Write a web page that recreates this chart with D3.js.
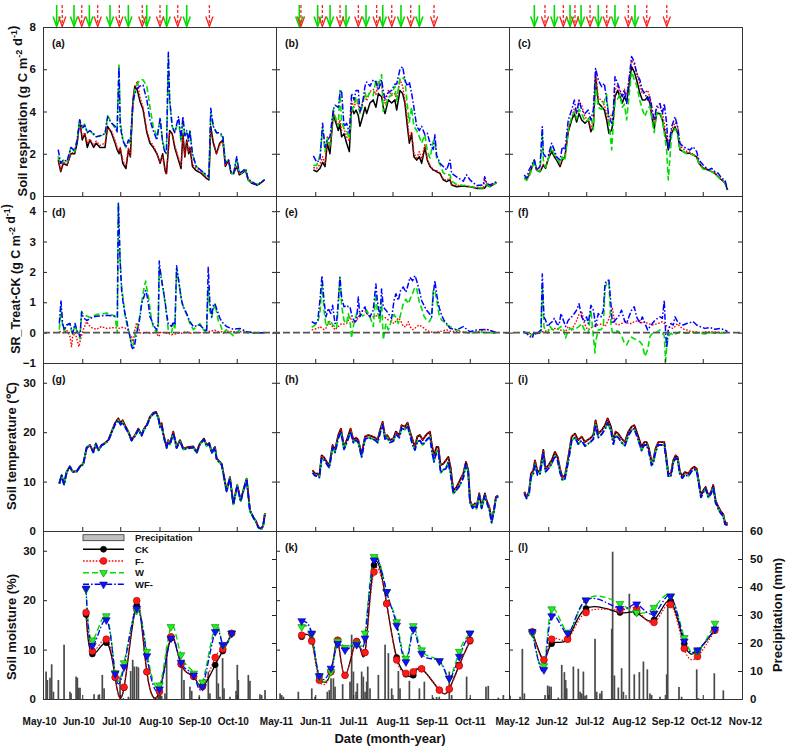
<!DOCTYPE html>
<html><head><meta charset="utf-8"><title>Soil respiration chart</title>
<script src="https://cdn.jsdelivr.net/npm/d3@7/dist/d3.min.js"></script>
<style>
html,body{margin:0;padding:0;background:#fff;}
svg{display:block;}
</style></head><body>
<svg id="chart" width="787" height="750"></svg>
<script>
// ---------------- DATA (days since 1 May of each year) ----------------
const years = [2010, 2011, 2012];
const seriesNames = ["CK", "F-", "W", "WF-"];
const panelTags = [["(a)","(b)","(c)"],["(d)","(e)","(f)"],["(g)","(h)","(i)"],["","(k)","(l)"]];
const srTicks = [0,2,4,6,8];
const dTicks = [-1,0,1,2,3,4];
const tTicks = [0,10,20,30];
const smTicks = [0,10,20,30];
const pTicks = [0,10,20,30,40,50,60];

// 2010 soil respiration
const srDays10 = [12,14,16,19,22,25,27,29,31,33,35,37,40,42,45,49,51,54,57,58.5,60,61,63,65.5,67.5,69,71,72.5,74.5,76.5,79,82,84.5,87,90,92.5,94.5,96.5,97.5,99,100,102,104,107,109,110.5,112,113.5,115,116,118,121,125,129,131,132.5,134.5,137,139.5,142,144,146.5,148.5,150.5,153,155,157,160,162,165,169,171,175];
const srCK10 = [1.7,1.15,1.55,1.45,2.0,2.0,2.5,3.6,2.65,2.95,2.3,2.65,2.3,2.5,2.3,2.3,3.3,3.0,2.5,2.2,2.0,2.25,1.55,1.3,2.2,1.85,4.5,5.2,5.0,4.5,4.1,3.0,2.5,2.3,2.0,1.55,2.0,1.2,1.07,2.2,3.1,2.95,2.3,1.7,1.3,2.95,1.85,2.65,2.0,2.3,1.4,1.2,1.07,0.84,0.76,3.3,2.5,2.0,2.5,2.65,1.4,1.7,1.07,1.07,1.4,1.0,1.07,1.2,0.76,0.6,0.52,0.57,0.76];
const srF10 = [1.8,1.2,1.6,1.5,2.0,2.1,2.6,3.5,2.8,3.0,2.5,2.7,2.4,2.6,2.4,2.5,3.2,3.1,2.6,2.3,2.1,2.3,1.7,1.4,2.3,1.9,4.6,5.1,5.45,4.7,4.2,3.1,2.6,2.4,2.0,1.6,1.9,1.1,1.0,2.2,3.0,3.0,2.4,1.8,1.4,2.8,1.9,2.6,2.1,2.3,1.5,1.3,1.1,0.9,0.8,3.1,2.6,2.0,2.4,2.6,1.45,1.7,1.1,1.1,1.45,1.05,1.1,1.25,0.8,0.6,0.55,0.6,0.75];
const srW10 = [1.9,1.5,1.7,1.6,2.3,2.1,2.7,3.5,3.3,3.4,3.0,3.1,2.9,2.8,2.85,2.9,3.8,3.5,3.2,3.1,6.2,3.6,2.7,2.3,2.6,2.5,4.3,5.0,5.3,5.5,5.5,5.2,4.2,3.3,2.8,3.6,2.6,2.1,2.0,6.6,4.5,3.3,3.0,3.6,2.6,3.6,2.8,3.0,2.7,3.1,2.0,1.4,1.2,0.95,0.85,3.9,3.3,3.0,2.9,2.8,1.6,1.7,1.1,1.05,1.8,1.05,1.1,1.3,0.75,0.65,0.55,0.6,0.78];
const srWF10 = [2.2,1.55,1.7,1.65,2.3,2.15,2.65,3.6,3.2,3.35,3.0,3.1,2.95,2.8,2.85,2.95,3.75,3.45,3.3,3.0,6.1,3.3,2.65,2.3,2.65,2.6,4.4,4.85,5.1,5.2,5.25,4.55,3.6,3.1,2.65,3.7,2.5,2.0,2.1,6.8,4.6,3.3,3.0,3.75,2.7,3.75,2.85,3.1,2.6,3.1,2.0,1.4,1.2,1.0,0.9,4.15,3.3,3.0,3.0,2.85,1.55,1.7,1.15,1.07,1.86,1.07,1.15,1.3,0.8,0.68,0.52,0.6,0.76];
// 2010 SR treatment - CK
const dDays10 = [12.9,14.2,15.5,16.8,18.7,21.3,22.5,23.4,25.3,27.1,28.4,29.2,30.5,31.8,34.5,37.1,39.7,42.4,46,50.3,56.8,58.7,59.5,60.8,62.1,63.4,64.7,66.1,67.4,68.7,70,71.3,72.6,73.9,75.3,76.6,77.9,79.7,81.1,81.8,83.2,84.5,85.8,87.1,89.7,91,91.8,93.2,95,96.3,97.6,98.9,101.6,102.9,104.2,105.5,106.8,108.2,109.5,110.8,113.4,116,118.7,123.9,126.6,129.2,130.5,131.8,133.2,134.5,135.8,138.4,139.7,142.4,145,150.3,155.5,160.8,166.1,175.3];
const dF10 = [0.03,0.03,0.0,-0.02,0.09,-0.13,-0.46,-0.15,0.0,-0.25,-0.46,-0.3,-0.1,0.1,0.36,0.2,0.14,0.11,0.2,0.14,0.17,0.14,0.14,0.15,0.17,0.17,0.16,0.1,0.09,-0.13,-0.13,-0.35,0.1,0.33,0.2,0.0,-0.02,-0.02,0.0,0.0,0.0,-0.02,-0.02,0.0,0.0,-0.13,-0.1,0.03,0.0,-0.02,-0.02,-0.02,-0.07,-0.05,-0.05,-0.03,-0.02,-0.02,-0.02,0.0,0.03,-0.02,0.0,0.0,0.0,0.0,0.0,0.05,0.05,0.08,0.08,0.03,0.03,0.03,0.05,0.03,0.03,0.03,0.0,0.0];
const dW10 = [0.1,0.85,0.2,0.05,0.25,0.3,0.05,-0.05,0.25,0.0,-0.1,-0.2,0.7,0.6,0.55,0.5,0.55,0.6,0.6,0.65,0.55,0.0,4.3,2.5,1.5,1.1,0.6,0.3,0.1,-0.1,-0.45,-0.4,-0.1,0.1,0.3,0.6,1.0,1.45,1.7,1.5,1.2,0.8,0.4,0.2,0.0,0.2,2.15,1.9,1.4,1.0,0.6,0.1,0.0,0.3,0.1,2.05,1.8,1.4,1.0,0.85,0.6,0.3,0.1,0.3,0.1,0.0,1.5,0.7,0.5,0.75,0.95,0.4,0.3,-0.02,0.1,-0.1,0.1,0.0,-0.02,0.0];
const dWF10 = [0.3,1.06,0.3,0.09,0.25,0.3,0.1,-0.02,0.3,0.03,-0.05,-0.13,0.68,0.5,0.4,0.46,0.52,0.54,0.55,0.57,0.54,0.52,4.26,2.47,1.39,0.95,0.63,0.41,0.09,-0.13,-0.46,-0.56,-0.35,-0.02,0.2,0.52,0.95,1.17,1.39,1.3,0.95,0.52,0.41,0.25,0.09,0.3,2.36,1.82,1.39,1.06,0.63,0.3,0.2,0.36,0.25,2.2,1.82,1.39,1.06,0.85,0.63,0.36,0.2,0.25,0.14,0.03,2.15,0.95,0.52,0.9,0.95,0.63,0.47,0.3,0.2,0.11,0.14,0.03,0.0,0.0];
// 2010 soil temperature
const tDays10 = [12.9,14.7,16.6,18.7,21.3,23.4,26.6,29.2,31.8,34.5,37.1,39.7,41.8,43.7,46.3,48.9,51.6,54.2,56.8,59.5,61.3,62.9,64.7,67.4,70,72.6,75.3,77.9,79.7,81.8,84.5,87.1,89.2,91,92.4,93.7,95,97.6,98.9,100.3,102.9,105.5,108.2,110.8,113.4,116,118.7,121.3,123.9,127.1,129.2,131.3,133.2,135.8,137.1,139.7,141.1,145,147.6,150.3,153.4,156.1,158.5,160.8,163.4,166.1,168.2,170,172.6,173.9,175.3];
const tCK10 = [9.6,11.3,9.5,12.0,13.1,12.0,12.1,13.1,13.6,16.9,17.4,16.0,17.7,16.4,17.4,17.8,18.4,20.1,21.8,22.8,21.8,22.4,21.4,20.1,18.4,19.4,20.7,19.4,20.7,21.4,23.1,23.9,24.1,23.1,21.4,21.8,19.7,17.0,18.4,17.7,20.1,17.0,18.4,16.7,16.9,17.0,17.1,16.0,17.7,18.7,17.4,17.8,16.0,17.0,14.7,14.0,13.6,8.2,10.9,5.5,9.3,6.2,8.5,10.6,4.2,2.8,2.0,0.8,0.5,1.2,3.6];
const tWF10 = [9.6,11.2,9.4,11.9,13.0,11.9,12.0,13.0,13.5,16.8,17.3,15.9,17.6,16.3,17.3,17.7,18.3,19.9,21.5,22.4,21.5,22.0,21.1,19.9,18.3,19.2,20.5,19.3,20.5,21.2,22.9,23.7,24.0,22.9,21.0,21.4,19.4,16.8,18.1,17.5,19.8,16.8,18.1,16.5,16.7,16.8,16.9,15.8,17.5,18.5,17.2,17.6,15.8,16.8,14.5,13.8,13.4,8.0,10.7,5.4,9.1,6.0,8.3,10.5,4.1,2.7,1.9,0.7,0.4,1.1,3.5];
// 2010 soil moisture
const smDays10 = [34,39,50,57,64,74,82,92,101,109,119,126,136,142,149];
const smCK10 = [17.1,9.1,11.4,4.3,2.3,18.9,5.5,1.5,12.3,7.0,4.5,2.5,6.9,9.7,13.3];
const smF10 = [17.5,9.7,12.1,4.4,2.4,19.9,5.5,1.5,12.6,7.1,4.6,2.6,8.4,10.1,13.3];
const smW10 = [22.2,11.9,16.8,5.3,7.3,17.9,9.6,2.8,14.6,8.9,5.2,3.4,14.6,10.9,13.3];
const smWF10 = [22.4,10.8,16.0,5.1,6.5,18.3,8.7,2.0,12.3,7.4,4.8,2.5,13.6,11.0,13.3];
// 2010 precipitation
const pDays10 = [2.4,3.4,5.5,6.8,8.2,12.1,16.6,21.3,22.1,26.1,27.1,28.2,29.2,40.3,43.7,44.5,46.8,48.2,60.8,63.4,67.4,69.2,70.8,72.1,73.9,75.3,91,92.4,93.7,96.3,97.6,109.5,111.3,116,117.4,123.4,130.5,131.8,137.1,138.4,139.7,141.8,142.9,147.6,152.4,153.4,154.2,162.1,163.4,171.3,172.6,175.3];
const pMm10 = [9.8,6.8,7.6,12.4,2.6,6.8,19.4,2.6,2.0,8.0,7.6,4.0,4.0,1.7,1.4,1.7,8.6,3.8,8.0,0.3,0.8,10.0,14.0,11.6,11.6,11.3,2.0,2.0,1.2,2.0,18.5,11.0,6.8,4.4,2.9,0.8,9.8,2.0,11.0,5.6,0.8,14.6,3.8,0.8,2.9,12.2,6.8,8.6,6.5,1.7,1.4,3.2];
// 2010 treatment events (arrows)
const waterDays10 = [10.8,24.5,36.6,52.9,67.4,81.9,97.7,113.5];
const fertDays10 = [15.2,30.6,43.2,60.3,78.4,92.4,106.4,131.4];

// 2011 soil respiration
const srDays11 = [29.5,32.1,34.7,36.8,38.7,40.5,42.6,45.3,46.6,49.2,50.5,51.8,53.7,55.8,57.9,59.7,61.6,63.2,65,66.3,68.4,70.3,71.6,74.2,76.8,78.9,80.8,83.4,84.7,86.1,88.7,91.3,93.9,95.3,97.9,100,101.8,103.7,105.3,107.1,108.9,111.1,113.2,115,117.6,119.5,121.6,124.2,125.5,126.8,129.5,132.1,134.7,137.4,138.7,142.6,147.9,150.5,153.2,158.4,163.7,164.8,166.3,168.9,174.2];
const srCK11 = [1.23,1.15,1.3,1.6,1.39,2.5,2.0,3.9,3.6,3.1,3.4,2.8,2.95,2.5,2.1,4.2,3.9,4.07,3.8,3.3,3.75,4.2,3.9,4.4,4.55,4.2,4.85,4.7,4.2,3.9,4.55,4.4,4.55,4.07,5.0,4.85,4.4,3.3,2.5,2.95,1.86,1.7,1.86,1.55,2.3,1.7,1.4,1.23,1.2,1.15,1.07,0.76,0.68,0.76,0.52,0.44,0.47,0.45,0.44,0.36,0.36,0.38,0.52,0.44,0.63];
const srF11 = [1.35,1.3,1.5,1.86,1.5,2.8,2.3,4.0,3.7,3.3,3.6,3.1,3.2,2.8,2.6,4.5,4.2,4.5,4.3,3.9,4.5,4.8,4.5,4.95,5.05,4.8,5.4,5.2,4.7,4.4,5.0,4.75,4.85,4.5,5.5,5.2,4.55,3.65,2.7,3.05,2.0,1.8,2.1,1.75,2.45,1.75,1.45,1.23,1.2,1.2,1.1,0.8,0.75,0.85,0.55,0.5,0.5,0.48,0.45,0.4,0.4,0.8,0.6,0.47,0.65];
const srW11 = [1.45,1.45,1.9,3.2,2.1,2.7,2.4,4.1,3.8,3.3,5.0,3.5,3.2,3.1,2.7,4.0,4.3,4.7,4.4,3.9,4.3,4.9,4.6,4.9,4.75,5.5,5.15,5.75,4.0,4.2,4.65,4.8,5.2,4.5,5.6,5.6,5.5,4.3,3.5,4.2,3.3,3.1,2.8,2.5,2.9,2.1,1.8,2.6,2.6,1.8,1.5,1.1,1.0,1.0,0.7,0.55,0.5,0.5,0.45,0.4,0.38,0.5,0.55,0.45,0.62];
const srWF11 = [1.9,1.6,1.7,3.44,2.3,2.65,2.8,4.1,4.3,4.2,4.86,5.0,3.3,3.44,2.97,4.86,4.54,5.0,5.0,4.0,4.4,5.2,5.4,5.2,5.5,5.4,5.0,5.5,5.0,4.6,4.9,5.0,5.3,5.3,6.0,6.12,5.5,5.2,5.4,4.86,4.2,3.3,3.1,3.3,2.9,2.97,2.5,2.2,2.9,1.94,1.55,1.4,1.23,1.7,1.07,0.91,0.7,1.0,0.76,0.5,0.52,0.91,0.6,0.52,0.68];
// 2011 SR treatment - CK
const dDays11 = [28.2,30.8,32.9,34.7,36.3,37.9,39.5,41.3,43.2,44.7,46.6,47.9,49.2,50.5,51.8,53.7,55.8,57.1,58.4,59.7,60.5,62.4,63.7,65,66.3,68.4,70.3,71.6,74.2,76.8,78.9,80,82.1,83.4,84.7,86.8,88.7,91.3,93.2,94.7,96.6,98.4,100.5,102.6,104.5,105.8,107.9,109.7,111.1,113.2,115,116.8,118.9,121.1,122.9,124.2,125.5,126.8,128.7,130.8,132.6,134.7,137.4,142.6,147.9,153.2,158.4,166.3,174.2];
const dF11 = [0.09,0.12,0.14,0.2,0.15,0.1,0.15,0.36,0.25,0.2,0.09,0.15,0.2,0.25,0.3,0.28,0.3,0.41,0.52,0.4,0.35,0.35,0.41,0.5,0.63,0.72,0.7,0.63,0.57,0.52,0.55,0.56,0.52,0.52,0.52,0.48,0.42,0.36,0.3,0.38,0.48,0.4,0.2,0.2,0.36,0.2,0.1,0.14,0.2,0.25,0.2,0.15,0.08,0.03,0.02,0.0,0.01,0.02,0.03,0.05,0.07,0.09,0.05,0.03,0.02,0.0,0.02,0.11,0.0];
const dW11 = [0.17,0.25,0.35,0.63,1.6,0.74,0.2,0.3,0.41,0.25,0.2,0.14,0.9,1.82,0.9,0.4,0.3,0.63,0.4,-0.18,0.1,0.45,0.63,0.6,0.63,0.55,0.6,0.74,0.52,0.2,1.28,0.7,0.35,1.06,-0.24,0.3,0.09,0.41,0.6,0.5,0.3,0.6,0.95,1.1,0.95,1.1,1.3,1.5,1.45,1.0,0.8,0.55,0.41,0.36,0.5,1.39,1.39,1.1,0.6,0.41,0.36,0.25,0.2,0.09,0.03,-0.02,0.03,0.0,-0.02];
const dWF11 = [0.36,0.3,0.36,1.06,1.88,1.06,0.52,0.8,0.63,0.9,0.3,0.36,1.06,1.82,1.17,0.85,0.9,0.85,0.85,0.6,0.47,0.36,0.41,1.17,0.52,0.74,0.85,0.63,0.52,0.74,1.6,1.06,0.52,1.44,0.85,0.74,0.63,0.47,1.06,1.28,1.06,1.39,1.5,1.33,1.6,1.82,1.71,1.88,1.71,1.39,1.06,0.9,0.74,0.63,0.52,1.28,1.71,1.28,0.85,0.57,0.41,0.3,0.14,0.09,0.2,0.03,0.09,0.11,0.0];
// 2011 soil temperature
const tDays11 = [28.9,30.8,32.9,34.2,36.1,37.9,40,42.1,44.7,46.6,49.2,51.3,53.7,56.3,58.9,61.1,63.2,65,67.6,70.3,72.9,75.5,78.2,80.3,82.1,84.2,86.1,87.9,90,92.6,94.7,97.4,99.2,101.8,103.9,105.8,107.9,109.7,111.6,113.7,115.8,117.6,119.5,121.6,122.9,124.7,126.8,128.2,130,132.1,134.2,136.1,137.9,140,142.6,145.3,147.9,150,151.8,153.2,155.3,157.1,158.4,160.5,162.4,165,166.3,168.4,170.3,172.1,173.7,175.5];
const tCK11 = [12.3,11.6,11.6,11.1,15.3,14.9,14.0,13.3,17.4,16.4,19.4,20.7,17.0,18.7,20.7,18.4,18.9,18.4,15.5,19.1,19.4,19.2,18.9,18.4,20.4,22.1,19.1,19.4,18.4,18.7,20.1,19.4,21.4,21.1,21.9,20.1,18.4,17.0,19.1,19.4,18.4,19.1,19.7,20.1,17.7,15.3,17.0,17.0,13.3,13.6,14.3,15.0,12.8,8.2,8.9,10.3,11.6,14.0,12.3,6.2,4.9,5.6,4.9,7.6,4.9,7.6,6.2,4.9,2.2,4.2,6.9,7.2];
const tWF11 = [11.8,11.2,11.1,10.8,14.8,14.4,13.6,12.8,16.9,15.9,18.8,20.1,16.5,18.2,20.1,17.9,18.4,17.9,15.0,18.6,18.9,18.7,18.4,17.9,19.8,21.5,18.6,18.9,17.9,18.2,19.6,18.9,20.8,20.5,21.3,19.4,17.4,16.4,18.1,18.3,17.4,18.0,18.6,19.0,16.6,14.0,16.0,16.2,11.8,12.4,12.6,14.0,11.5,7.6,8.3,9.3,10.8,13.5,11.8,5.8,4.6,5.2,4.5,7.2,4.6,7.2,5.9,4.4,1.7,4.0,6.7,7.0];
// 2011 soil moisture
const smDays11 = [20.3,28.2,34.2,43.4,48.7,54.5,63.7,70.3,77.4,87.4,95.3,102.6,108.4,115,129,136.8,144.7,153.2];
const smCK11 = [12.6,11.9,4.5,5.5,11.9,4.8,11.7,9.4,27.1,19.3,8.4,5.0,4.8,6.1,1.8,2.0,6.9,11.7];
const smF11 = [12.9,11.7,3.8,5.5,11.9,4.8,11.6,9.4,25.7,19.3,7.9,5.2,5.5,6.1,1.8,2.0,6.7,11.9];
const smW11 = [14.6,13.1,4.5,5.5,11.7,10.4,11.2,13.3,28.8,21.7,15.6,8.2,14.8,9.9,7.7,4.2,9.6,13.3];
const smWF11 = [15.8,13.3,4.7,6.2,11.2,9.9,11.0,12.3,28.1,21.7,14.9,7.5,14.1,9.2,7.7,4.2,8.6,13.3];
// 2011 precipitation
const pDays11 = [3.2,4.5,5.8,17.6,28.2,30.8,40.5,42.1,43.4,45.3,46.6,52.6,58.4,59.7,61.1,63.2,64.2,67.6,68.9,70.3,71.6,72.4,74.2,80.8,86.1,88.7,91.3,96.6,97.9,105.3,113.2,117.1,124.2,126.8,128.9,136.8,138.7,150.5,153.2,165.8,167.6,175.5,179.5];
const pMm11 = [2.0,1.4,0.8,2.6,3.8,0.8,2.6,3.2,7.4,7.4,4.4,5.3,6.2,23.0,9.8,2.6,5.6,9.8,8.0,2.6,6.2,11.6,3.8,8.6,19.4,16.4,3.8,10.0,3.8,6.5,3.8,6.2,0.5,0.7,0.8,9.8,1.4,8.0,0.3,4.4,4.7,0.5,1.4];
const waterDays11 = [18.4,32.9,42.7,55.3,71.1,84.3,98.7,113.2];
const fertDays11 = [19.7,36.6,50.6,65,79.5,91.4,106.4,124.8];

// 2012 soil respiration
const srDays12 = [12.1,13.9,15.8,17.9,20,21.8,24.5,26.3,27.1,28.9,31.1,33.7,35.8,37.6,40.3,42.1,44.2,46.8,49.5,51.6,53.4,55.3,57.4,60,62.6,64.7,66.6,68.4,70.5,73.2,75.3,77.1,78.9,81.1,82.4,83.7,85.8,87.6,89.5,91.1,92.9,94.7,96.8,98.9,100.8,103.4,105.3,107.4,109.5,111.3,113.2,114.7,116.6,119.2,121.1,122.6,124.5,125.8,128.4,131.1,133.2,135,137.6,140.3,142.9,145.5,148.2,150,153.4,157.4,160,162.6,165.3,167.9,170.5,172.6];
const srCK12 = [0.84,0.76,1.0,1.31,1.7,1.23,1.15,1.35,1.46,1.31,1.78,2.1,1.86,1.7,1.39,1.7,1.86,3.04,3.6,3.9,3.5,3.9,3.6,3.44,3.6,3.04,3.28,5.65,4.4,4.23,4.07,3.6,2.97,3.12,3.6,4.7,5.0,4.7,4.4,4.7,4.46,5.17,6.12,5.88,5.49,4.86,4.54,4.54,4.7,4.38,3.6,3.2,3.9,3.9,3.6,3.12,2.65,2.18,2.97,3.28,2.97,2.18,2.1,2.02,2.02,1.94,1.86,1.55,1.31,1.23,1.15,1.07,0.91,0.76,0.63,0.28];
const srF12 = [0.86,0.77,0.98,1.27,1.68,1.21,1.14,1.38,1.5,1.36,1.87,2.22,2.0,1.82,1.48,1.77,1.89,3.24,3.69,4.15,3.9,4.5,4.3,3.7,3.69,3.19,3.48,5.88,4.66,4.51,4.3,3.9,3.42,3.92,3.9,5.0,5.25,4.9,4.7,5.06,4.79,5.47,6.42,6.24,5.87,5.26,4.84,4.9,5.0,4.66,3.85,3.47,4.17,4.22,3.96,3.42,2.87,2.38,3.12,3.48,3.27,2.38,2.22,2.11,2.07,1.97,1.88,1.55,1.33,1.26,1.17,1.09,0.92,0.77,0.63,0.28];
const srW12 = [0.87,0.74,0.9,1.25,1.7,1.21,1.18,2.95,1.7,1.36,1.76,2.3,1.95,1.79,1.55,1.85,1.68,3.13,3.74,3.99,3.65,4.1,3.9,3.53,3.58,3.78,3.15,5.3,4.2,4.1,4.5,4.8,3.5,2.18,3.5,4.4,4.6,4.8,4.2,4.35,3.6,4.7,5.9,5.5,5.25,4.5,4.1,3.76,4.14,4.25,3.5,3.0,3.93,3.99,3.6,3.0,2.15,0.76,2.9,3.2,2.95,2.2,2.1,2.0,2.02,1.94,1.84,1.53,1.27,1.23,1.15,1.05,0.89,0.74,0.63,0.28];
const srWF12 = [1.0,0.84,1.23,1.47,1.7,1.23,1.39,3.28,2.0,1.86,1.94,2.5,2.18,1.86,1.7,2.33,2.18,3.6,4.07,4.54,3.9,4.54,4.07,3.9,4.07,3.6,4.07,6.04,5.49,5.17,5.33,4.54,3.75,3.44,4.07,5.65,5.33,5.02,4.7,5.02,4.38,5.49,6.6,6.36,5.8,5.49,5.02,4.86,4.54,4.7,4.07,3.6,4.23,4.38,3.9,4.38,3.44,2.18,3.28,3.75,3.28,2.5,2.33,2.25,2.18,2.33,2.1,1.7,1.47,1.23,1.31,1.15,1.07,0.84,0.76,0.28];
// 2012 SR treatment - CK
const dDays12 = [11.3,13.9,16.6,18.4,20,21.8,23.7,25.3,26.3,27.6,28.9,30.5,32.4,34.2,35.8,37.6,39.5,41.1,42.9,44.7,46.8,49.5,51.6,53.4,55.3,57.4,59.5,61.3,62.6,64.7,66.6,67.9,68.4,70.5,72.6,74.5,75.8,77.1,78.9,80.5,81.6,83.7,86.3,88.9,91.1,92.9,94.7,96.8,98.9,100.8,103.4,105.3,107.4,109.5,111.3,113.2,115.3,117.4,119.2,121.1,122.6,123.7,124.5,125.8,127.9,129.7,131.1,133.2,135,137.6,140.3,142.9,145.5,148.2,150.8,154.7,158.7,162.6,166.6,170.5,172.6];
const dF12 = [0.03,0.0,-0.03,-0.04,-0.03,-0.02,-0.02,0.0,0.03,0.03,0.05,0.09,0.1,0.12,0.14,0.12,0.1,0.08,0.05,0.03,0.2,0.09,0.25,0.4,0.6,0.7,0.3,0.15,0.09,0.15,0.2,0.22,0.23,0.26,0.28,0.25,0.2,0.3,0.45,0.7,0.8,0.3,0.25,0.3,0.36,0.33,0.3,0.3,0.36,0.38,0.4,0.3,0.36,0.3,0.28,0.25,0.27,0.3,0.32,0.36,0.3,0.25,0.22,0.2,0.15,0.14,0.2,0.3,0.2,0.12,0.09,0.05,0.03,0.02,0.0,0.02,0.03,0.02,0.01,0.0,0.0];
const dW12 = [0.03,-0.02,-0.13,-0.05,0.0,-0.02,0.0,0.03,1.6,0.2,0.05,-0.02,0.2,0.1,0.09,0.09,0.15,0.2,0.14,-0.18,0.09,0.14,0.09,0.15,0.2,0.3,0.1,0.05,-0.02,0.74,-0.13,-0.67,-0.3,0.09,0.1,0.2,1.5,1.6,1.66,0.3,0.0,0.05,0.05,-0.1,-0.35,-0.4,-0.25,-0.15,-0.2,-0.24,-0.3,-0.4,-0.78,-0.56,-0.13,-0.02,0.0,0.03,0.09,0.0,-0.1,-0.94,-0.5,-0.13,-0.02,-0.08,-0.05,-0.02,0.03,0.0,-0.02,0.0,0.0,-0.02,-0.02,-0.04,0.0,-0.02,-0.02,0.0,0.0];
const dWF12 = [0.03,-0.02,-0.13,-0.18,0.03,-0.08,0.03,0.09,1.93,0.52,0.41,0.2,0.3,0.36,0.47,0.3,0.25,0.63,0.41,0.2,0.41,0.52,0.63,0.74,0.95,0.52,0.36,0.52,0.3,0.9,0.74,0.4,0.2,0.63,0.52,0.74,1.6,1.71,1.73,0.95,0.3,0.41,0.52,0.74,0.41,0.3,0.52,0.74,0.85,0.52,0.3,0.52,0.3,0.09,0.2,0.3,0.41,0.47,0.52,0.47,1.06,-0.02,-0.5,0.09,0.3,0.25,0.52,0.36,0.3,0.25,0.3,0.33,0.36,0.25,0.2,0.14,0.17,0.11,0.14,0.09,0.03];
// 2012 soil temperature
const tDays12 = [12.1,13.9,15.8,17.4,19.2,20.5,22.6,24.5,27.1,28.9,31.1,33.7,36.3,38.4,40.3,42.1,44.2,46.8,49.5,52.1,54.7,57.4,60,62.1,63.9,66.6,68.4,70.5,73.2,75.8,77.9,80.5,82.4,84.2,86.3,88.9,91.6,94.2,96.8,98.9,100.8,102.6,104.7,106.8,108.7,110.5,112.6,113.9,115.8,117.9,120.5,122.6,124.5,125.8,127.9,129.7,131.6,133.2,135,136.8,138.9,141.6,144.2,146.3,148.2,149.5,151.6,153.4,155.3,157.4,159.5,161.3,163.2,165.3,167.4,169.2,170.5,172.6];
const tCK12 = [7.9,6.9,7.9,11.6,12.3,14.3,11.9,12.3,16.4,12.6,13.3,14.3,16.0,15.0,12.6,10.9,11.2,14.9,19.1,19.7,18.4,19.1,18.0,18.4,18.7,19.4,22.4,19.7,20.4,21.4,22.8,21.1,18.4,20.1,19.7,18.7,18.0,20.1,21.1,21.4,20.1,18.7,17.0,18.0,18.0,16.7,14.0,14.3,16.7,18.0,18.0,18.0,14.3,11.6,11.6,14.3,15.3,14.9,11.9,11.2,11.9,11.6,12.6,13.0,12.6,10.6,7.2,8.2,8.9,7.2,7.9,9.3,6.1,4.9,3.9,3.4,1.8,1.5];
const tWF12 = [7.6,6.6,7.5,11.0,11.6,13.5,11.3,11.6,15.6,12.0,12.6,13.6,15.2,14.3,11.9,10.3,10.6,14.1,18.3,18.9,17.6,18.3,17.2,17.6,17.9,18.6,21.5,18.9,19.6,20.6,21.9,20.3,17.6,19.3,18.9,17.9,17.3,19.3,20.4,20.7,19.4,18.0,16.3,17.4,17.4,16.0,13.3,13.7,16.1,17.4,17.4,17.5,13.8,11.1,11.1,13.8,14.8,14.4,11.4,10.7,11.4,11.1,12.1,12.5,12.1,10.2,6.8,7.8,8.5,6.8,7.5,8.9,5.7,4.5,3.5,3.0,1.4,1.2];
// 2012 soil moisture
const smDays12 = [18.4,27.6,33.7,46.3,60.8,87.6,100.8,114.5,127.6,138.4,148.9,162.6];
const smCK12 = [13.6,7.9,11.2,12.1,18.3,17.5,17.5,16.0,19.8,11.2,9.7,14.1];
const smF12 = [13.6,7.9,12.1,12.1,17.5,18.0,18.2,15.5,19.1,10.2,8.6,13.9];
const smW12 = [13.3,6.7,18.2,13.5,20.0,19.3,17.5,18.5,20.8,12.4,9.6,15.3];
const smWF12 = [13.6,5.9,16.8,13.3,20.0,18.3,19.2,17.3,20.8,11.7,9.9,14.1];
// 2012 precipitation
const pDays12 = [0.8,8.7,10.5,12.1,28.4,30.5,31.8,33.2,38.9,41.6,43.7,44.7,45.5,50.8,54.7,56.1,57.4,58.7,60,67.9,69.2,71.8,73.2,81.1,81.8,83.2,86.3,88.9,90.3,95,98.9,102.9,106.1,109.2,111.3,112.6,119.2,124.5,125.3,134.2,136.3,148.2,149.5,162.1,169.2];
const pMm12 = [1.2,0.8,17.9,2.0,1.4,4.8,4.5,4.4,0.5,12.2,9.6,6.8,3.8,11.6,10.8,2.6,2.0,9.8,1.2,21.5,2.6,2.0,2.9,25.1,52.6,8.4,4.1,11.0,2.6,37.6,8.8,9.6,13.4,10.6,2.0,1.4,0.8,8.8,33.7,4.3,0.8,10.6,0.3,9.2,3.1];
const waterDays12 = [20,35.8,48.2,56.9,70.5,83.7,99.5];
const fertDays12 = [28.4,42.9,52.1,64,77.2,94.2,108.8,124.6];

// ---------------- assemble ----------------
const columns = [
  {year:years[0], sr:[srDays10,srCK10,srF10,srW10,srWF10], d:[dDays10,dF10,dW10,dWF10], t:[tDays10,tCK10,tWF10], sm:[smDays10,smCK10,smF10,smW10,smWF10], p:[pDays10,pMm10], water:waterDays10, fert:fertDays10},
  {year:years[1], sr:[srDays11,srCK11,srF11,srW11,srWF11], d:[dDays11,dF11,dW11,dWF11], t:[tDays11,tCK11,tWF11], sm:[smDays11,smCK11,smF11,smW11,smWF11], p:[pDays11,pMm11], water:waterDays11, fert:fertDays11},
  {year:years[2], sr:[srDays12,srCK12,srF12,srW12,srWF12], d:[dDays12,dF12,dW12,dWF12], t:[tDays12,tCK12,tWF12], sm:[smDays12,smCK12,smF12,smW12,smWF12], p:[pDays12,pMm12], water:waterDays12, fert:fertDays12}
];

// ---------------- drawing ----------------
const FONT = '"Liberation Sans", Arial, Helvetica, sans-serif';
const svg = d3.select('#chart');
svg.append('rect').attr('width',787).attr('height',750).attr('fill','#fff');
const colX = [43, 276, 509], colW = 233;
const rowY = [[27,196],[196,363],[363,531],[531,699]];
const ySR = d3.scaleLinear().domain([0,8]).range([196,27]);
const yD  = d3.scaleLinear().domain([-1,4.5]).range([363,196]);
const yT  = d3.scaleLinear().domain([0,34]).range([531,363]);
const yM  = d3.scaleLinear().domain([0,34]).range([699,531]);
const yP  = d3.scaleLinear().domain([0,60]).range([699,531]);
const STY = {
  "CK":  {c:'#000000', w:1.5, d:null},
  "F-":  {c:'#ff0000', w:1.4, d:'1.6,1.6'},
  "W":   {c:'#00dd00', w:1.6, d:'6,3'},
  "WF-": {c:'#0000ff', w:1.5, d:'6,2,1.6,2'}
};
const rowScales = [ySR, yD, yT, yM];
const rowTicks = [srTicks, dTicks, tTicks, smTicks];
const defs = svg.append('defs');
const xLabelShift = [-4, 0, 3];

function pts(days, vals){ return days.map((d,i)=>[d, vals[i]]).filter(p=>p[1]!=null && !isNaN(p[1])); }

columns.forEach((col, ci) => {
  const start = new Date(col.year, 4, 1), end = new Date(col.year, 10, 1);
  const x = d3.scaleTime().domain([start, end]).range([colX[ci], colX[ci] + colW]);
  const dt = day => new Date(start.getTime() + day * 864e5);
  const months = d3.timeMonth.range(start, new Date(col.year, 10, 2));

  rowY.forEach((r, ri) => {
    defs.append('clipPath').attr('id', `clip${ri}${ci}`)
      .append('rect').attr('x', colX[ci]).attr('y', r[0]).attr('width', colW).attr('height', r[1]-r[0]);
  });

  // ---- row 4: precipitation bars (behind) ----
  const g4 = svg.append('g').attr('clip-path', `url(#clip3${ci})`);
  g4.selectAll('rect.bar').data(pts(col.p[0], col.p[1])).join('rect')
    .attr('x', p => x(dt(p[0])) - 0.8).attr('width', 1.7)
    .attr('y', p => yP(p[1])).attr('height', p => yP(0) - yP(p[1]))
    .attr('fill', '#4a4a4a');

  const lineGen = (y, curve) => d3.line().x(p => x(dt(p[0]))).y(p => y(p[1])).curve(curve || d3.curveLinear);

  // ---- row 1: soil respiration ----
  const g1 = svg.append('g').attr('clip-path', `url(#clip0${ci})`);
  seriesNames.forEach((s, si) => {
    const st = STY[s];
    g1.append('path').datum(pts(col.sr[0], col.sr[si+1])).attr('d', lineGen(ySR))
      .attr('fill','none').attr('stroke', st.c).attr('stroke-width', st.w)
      .attr('stroke-dasharray', st.d).attr('stroke-linejoin','round');
  });

  // ---- row 2: treatment - CK ----
  const g2 = svg.append('g').attr('clip-path', `url(#clip1${ci})`);
  ["F-","W","WF-"].forEach((s, si) => {
    const st = STY[s];
    g2.append('path').datum(pts(col.d[0], col.d[si+1])).attr('d', lineGen(yD))
      .attr('fill','none').attr('stroke', st.c).attr('stroke-width', st.w)
      .attr('stroke-dasharray', st.d).attr('stroke-linejoin','round');
  });

  // ---- row 3: soil temperature ----
  const g3 = svg.append('g').attr('clip-path', `url(#clip2${ci})`);
  const tSrc = {"CK":col.t[1], "F-":col.t[1], "W":col.t[2], "WF-":col.t[2]};
  seriesNames.forEach(s => {
    const st = STY[s];
    g3.append('path').datum(pts(col.t[0], tSrc[s])).attr('d', lineGen(yT))
      .attr('fill','none').attr('stroke', st.c).attr('stroke-width', st.w + 0.3)
      .attr('stroke-dasharray', st.d).attr('stroke-linejoin','round');
  });

  // ---- row 4: soil moisture ----
  const g4b = svg.append('g').attr('clip-path', `url(#clip3${ci})`);
  seriesNames.forEach((s, si) => {
    const st = STY[s];
    g4b.append('path').datum(pts(col.sm[0], col.sm[si+1])).attr('d', lineGen(yM, d3.curveNatural))
      .attr('fill','none').attr('stroke', st.c).attr('stroke-width', st.w - 0.2)
      .attr('stroke-dasharray', st.d);
  });
  seriesNames.forEach((s, si) => {
    const data = pts(col.sm[0], col.sm[si+1]);
    drawMarkers(g4b, data.map(p => [x(dt(p[0])), yM(p[1])]), s);
  });

  // ---- arrows at top ----
  const ga = svg.append('g');
  col.water.forEach(d => drawArrow(ga, x(dt(d)), '#00dd00', null, 1.6));
  col.fert.forEach(d => drawArrow(ga, x(dt(d)), '#ff2020', '3,2', 1.3));

  // ---- axes & frames ----
  rowY.forEach((r, ri) => {
    const ax = d3.axisBottom(x).tickValues(months).tickSize(-4).tickPadding(19)
      .tickFormat(ri === 3 ? (d => (d.getMonth() === 10 && ci < 2) ? '' : d3.timeFormat('%b-%y')(d)) : () => '');
    const gx = svg.append('g').attr('transform', `translate(0,${r[1]})`).call(ax);
    gx.select('.domain').remove();
    gx.selectAll('line').attr('stroke', '#222');
    gx.selectAll('text').attr('font-family', FONT).attr('font-size', 10).attr('font-weight', 'bold')
      .attr('fill', '#111').attr('dx', xLabelShift[ci]);

    const yS = rowScales[ri];
    const al = d3.axisLeft(yS).tickValues(rowTicks[ri]).tickSize(-4).tickPadding(7)
      .tickFormat(ci === 0 ? d3.format('d') : () => '');
    const gl = svg.append('g').attr('transform', `translate(${colX[ci]},0)`).call(al);
    gl.select('.domain').remove();
    gl.selectAll('line').attr('stroke', '#222');
    gl.selectAll('text').attr('font-family', FONT).attr('font-size', 11.5).attr('font-weight', 'bold').attr('fill', '#111');

    const yR = ri === 3 ? yP : yS;
    const tv = ri === 3 ? pTicks : rowTicks[ri];
    const ar = d3.axisRight(yR).tickValues(tv).tickSize(-4).tickPadding(8)
      .tickFormat((ri === 3 && ci === 2) ? d3.format('d') : () => '');
    const gr = svg.append('g').attr('transform', `translate(${colX[ci] + colW},0)`).call(ar);
    gr.select('.domain').remove();
    gr.selectAll('line').attr('stroke', '#222');
    gr.selectAll('text').attr('font-family', FONT).attr('font-size', 11.5).attr('font-weight', 'bold').attr('fill', '#111');

    svg.append('rect').attr('x', colX[ci] + 0.5).attr('y', r[0] + 0.5).attr('width', colW).attr('height', r[1] - r[0])
      .attr('fill', 'none').attr('stroke', '#333').attr('stroke-width', 1);

    if (panelTags[ri][ci]) {
      svg.append('text').attr('x', colX[ci] + 9).attr('y', r[0] + 19.5).text(panelTags[ri][ci])
        .attr('font-family', FONT).attr('font-size', 10.5).attr('font-weight', 'bold').attr('fill', '#111');
    }
  });
});

// zero reference line in row 2
svg.append('line').attr('x1', colX[0]).attr('x2', colX[2] + colW).attr('y1', yD(0)).attr('y2', yD(0))
  .attr('stroke', '#555').attr('stroke-width', 1.6).attr('stroke-dasharray', '7,3');

function drawMarkers(g, xy, s) {
  if (s === 'CK' || s === 'F-') {
    g.selectAll(null).data(xy).join('circle')
      .attr('cx', p => p[0]).attr('cy', p => p[1]).attr('r', s === 'CK' ? 3.0 : 3.4)
      .attr('fill', s === 'CK' ? '#000' : '#ff1a1a').attr('stroke', s === 'CK' ? '#000' : '#b00000').attr('stroke-width', 0.6);
  } else {
    const sym = d3.symbol().type(d3.symbolTriangle).size(26);
    g.selectAll(null).data(xy).join('path')
      .attr('d', sym).attr('transform', p => `translate(${p[0]},${p[1]}) rotate(180)`)
      .attr('fill', s === 'W' ? '#22ee22' : '#1010ff').attr('stroke', s === 'W' ? '#008800' : '#000080').attr('stroke-width', 0.6);
  }
}

function drawArrow(g, x, color, dash, w) {
  g.append('line').attr('x1', x).attr('x2', x).attr('y1', 5).attr('y2', 26)
    .attr('stroke', color).attr('stroke-width', w).attr('stroke-dasharray', dash);
  g.append('path').attr('d', `M${x-3.6},16.5 L${x},26.5 L${x+3.6},16.5`)
    .attr('fill', 'none').attr('stroke', color).attr('stroke-width', w);
}

// ---- legend in panel (j) ----
const lg = svg.append('g');
const legY = [537.7, 549.3, 561, 572.7, 584.3];
lg.append('rect').attr('x', 83).attr('y', legY[0] - 3).attr('width', 41).attr('height', 6)
  .attr('fill', '#c0c0c0').attr('stroke', '#333').attr('stroke-width', 0.8);
lg.append('text').attr('x', 135).attr('y', legY[0] + 3.5).text('Precipitation');
seriesNames.forEach((s, i) => {
  const st = STY[s], yy = legY[i + 1];
  lg.append('line').attr('x1', 83).attr('x2', 124).attr('y1', yy).attr('y2', yy)
    .attr('stroke', st.c).attr('stroke-width', st.w - 0.1).attr('stroke-dasharray', st.d);
  drawMarkers(lg, [[103.5, yy]], s);
  lg.append('text').attr('x', 135).attr('y', yy + 3.5).text(s);
});
lg.selectAll('text').attr('font-family', FONT).attr('font-size', 9.5).attr('font-weight', 'bold').attr('fill', '#111');

// ---- axis titles ----
function vTitle(x, y, parts, size) {
  const fs = size || 13;
  const t = svg.append('text').attr('transform', `translate(${x},${y}) rotate(-90)`)
    .attr('text-anchor', 'middle').attr('font-family', FONT).attr('font-size', fs).attr('font-weight', 'bold').attr('fill', '#111');
  parts.forEach(p => {
    if (p.sup) {
      t.append('tspan').attr('dy', -5).attr('font-size', fs * 0.7).text(p.sup);
      t.append('tspan').attr('dy', 5).text('');
    } else {
      t.append('tspan').text(p.t);
    }
  });
}
vTitle(27, 111, [{t:'Soil respiration (g C m'},{sup:'-2'},{t:' d'},{sup:'-1'},{t:')'}]);
vTitle(19.5, 279, [{t:'SR_Treat-CK (g C m'},{sup:'-2'},{t:' d'},{sup:'-1'},{t:')'}], 12.5);
vTitle(16, 446, [{t:'Soil temperature (℃)'}]);
vTitle(16, 627, [{t:'Soil moisture (%)'}]);
vTitle(782, 615, [{t:'Precipitation (mm)'}]);
svg.append('text').attr('x', 390).attr('y', 743).attr('text-anchor', 'middle')
  .attr('font-family', FONT).attr('font-size', 13).attr('font-weight', 'bold').attr('fill', '#111')
  .text('Date (month-year)');
</script>
</body></html>
